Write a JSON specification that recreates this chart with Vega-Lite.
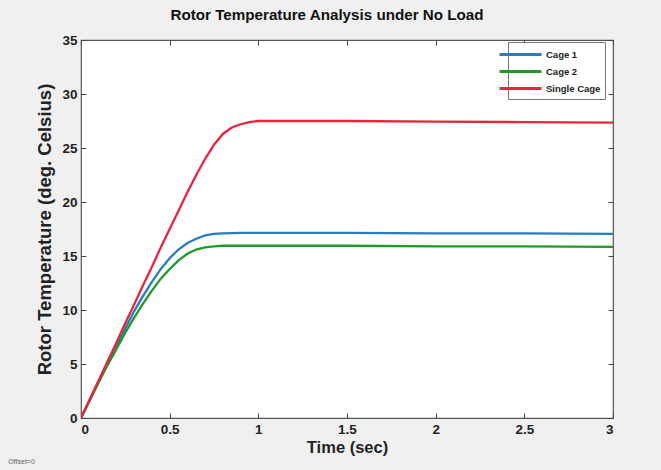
{
  "$schema": "https://vega.github.io/schema/vega-lite/v6.json",
  "width": 532,
  "height": 378,
  "autosize": "none",
  "padding": {"left": 81, "top": 40, "right": 48, "bottom": 52},
  "background": "#f0f0f0",
  "config": {
    "view": {"fill": "white", "stroke": "#555", "strokeWidth": 1.2},
    "font": "Liberation Sans",
    "axis": {"grid": false, "domain": false, "tickColor": "#444", "tickSize": -5, "labelFont": "Liberation Sans", "labelFontWeight": "bold", "labelFontSize": 13.5, "labelColor": "#222", "titleFont": "Liberation Sans", "titleFontWeight": "bold", "titleFontSize": 16.5, "titleColor": "#222"}
  },
  "title": {"text": "Rotor Temperature Analysis under No Load", "fontSize": 15.2, "fontWeight": "bold", "font": "Liberation Sans", "color": "#111", "offset": 10, "dx": -20},
  "datasets": {
    "temps": [
      {"t": 0, "v": 0, "s": "Cage 1"}, {"t": 0.05, "v": 1.7, "s": "Cage 1"}, {"t": 0.1, "v": 3.4, "s": "Cage 1"}, {"t": 0.15, "v": 5.1, "s": "Cage 1"}, {"t": 0.2, "v": 6.7, "s": "Cage 1"}, {"t": 0.25, "v": 8.3, "s": "Cage 1"}, {"t": 0.3, "v": 9.9, "s": "Cage 1"}, {"t": 0.35, "v": 11.3, "s": "Cage 1"}, {"t": 0.4, "v": 12.6, "s": "Cage 1"}, {"t": 0.45, "v": 13.8, "s": "Cage 1"}, {"t": 0.5, "v": 14.8, "s": "Cage 1"}, {"t": 0.55, "v": 15.6, "s": "Cage 1"}, {"t": 0.6, "v": 16.2, "s": "Cage 1"}, {"t": 0.65, "v": 16.6, "s": "Cage 1"}, {"t": 0.7, "v": 16.9, "s": "Cage 1"}, {"t": 0.75, "v": 17.05, "s": "Cage 1"}, {"t": 0.8, "v": 17.1, "s": "Cage 1"}, {"t": 0.9, "v": 17.15, "s": "Cage 1"}, {"t": 1.0, "v": 17.15, "s": "Cage 1"}, {"t": 1.5, "v": 17.15, "s": "Cage 1"}, {"t": 2.0, "v": 17.1, "s": "Cage 1"}, {"t": 2.5, "v": 17.1, "s": "Cage 1"}, {"t": 3.0, "v": 17.05, "s": "Cage 1"},
      {"t": 0, "v": 0, "s": "Cage 2"}, {"t": 0.05, "v": 1.65, "s": "Cage 2"}, {"t": 0.1, "v": 3.3, "s": "Cage 2"}, {"t": 0.15, "v": 4.9, "s": "Cage 2"}, {"t": 0.2, "v": 6.4, "s": "Cage 2"}, {"t": 0.25, "v": 7.9, "s": "Cage 2"}, {"t": 0.3, "v": 9.3, "s": "Cage 2"}, {"t": 0.35, "v": 10.6, "s": "Cage 2"}, {"t": 0.4, "v": 11.8, "s": "Cage 2"}, {"t": 0.45, "v": 12.9, "s": "Cage 2"}, {"t": 0.5, "v": 13.8, "s": "Cage 2"}, {"t": 0.55, "v": 14.6, "s": "Cage 2"}, {"t": 0.6, "v": 15.2, "s": "Cage 2"}, {"t": 0.65, "v": 15.6, "s": "Cage 2"}, {"t": 0.7, "v": 15.8, "s": "Cage 2"}, {"t": 0.75, "v": 15.9, "s": "Cage 2"}, {"t": 0.8, "v": 15.95, "s": "Cage 2"}, {"t": 1.0, "v": 15.95, "s": "Cage 2"}, {"t": 1.5, "v": 15.95, "s": "Cage 2"}, {"t": 2.0, "v": 15.9, "s": "Cage 2"}, {"t": 2.5, "v": 15.9, "s": "Cage 2"}, {"t": 3.0, "v": 15.85, "s": "Cage 2"},
      {"t": 0, "v": 0, "s": "Single Cage"}, {"t": 0.05, "v": 1.75, "s": "Single Cage"}, {"t": 0.1, "v": 3.5, "s": "Single Cage"}, {"t": 0.15, "v": 5.25, "s": "Single Cage"}, {"t": 0.2, "v": 7.0, "s": "Single Cage"}, {"t": 0.25, "v": 8.8, "s": "Single Cage"}, {"t": 0.3, "v": 10.5, "s": "Single Cage"}, {"t": 0.35, "v": 12.3, "s": "Single Cage"}, {"t": 0.4, "v": 14.0, "s": "Single Cage"}, {"t": 0.45, "v": 15.8, "s": "Single Cage"}, {"t": 0.5, "v": 17.5, "s": "Single Cage"}, {"t": 0.55, "v": 19.2, "s": "Single Cage"}, {"t": 0.6, "v": 20.9, "s": "Single Cage"}, {"t": 0.65, "v": 22.5, "s": "Single Cage"}, {"t": 0.7, "v": 24.0, "s": "Single Cage"}, {"t": 0.75, "v": 25.3, "s": "Single Cage"}, {"t": 0.8, "v": 26.3, "s": "Single Cage"}, {"t": 0.85, "v": 26.9, "s": "Single Cage"}, {"t": 0.9, "v": 27.2, "s": "Single Cage"}, {"t": 0.95, "v": 27.4, "s": "Single Cage"}, {"t": 1.0, "v": 27.5, "s": "Single Cage"}, {"t": 1.5, "v": 27.5, "s": "Single Cage"}, {"t": 2.0, "v": 27.45, "s": "Single Cage"}, {"t": 2.5, "v": 27.4, "s": "Single Cage"}, {"t": 3.0, "v": 27.35, "s": "Single Cage"}
    ],
    "note": [{"t": -0.41, "v": -4.1, "label": "Offset=0"}]
  },
  "layer": [
    {
      "data": {"name": "temps"},
      "mark": {"type": "line", "strokeWidth": 2.3, "clip": true},
      "encoding": {
        "x": {"field": "t", "type": "quantitative", "scale": {"domain": [0, 3], "nice": false, "zero": false}, "axis": {"title": "Time (sec)", "values": [0, 0.5, 1, 1.5, 2, 2.5, 3], "format": "~g", "labelPadding": 9, "titlePadding": 4}},
        "y": {"field": "v", "type": "quantitative", "scale": {"domain": [0, 35], "nice": false}, "axis": {"title": "Rotor Temperature (deg. Celsius)", "titleFontSize": 18.5, "values": [0, 5, 10, 15, 20, 25, 30, 35], "format": "~g", "labelPadding": 9, "titlePadding": 7}},
        "color": {"field": "s", "type": "nominal", "scale": {"domain": ["Cage 1", "Cage 2", "Single Cage"], "range": ["#2b7bbf", "#1e9a28", "#e8253f"]},
          "legend": {"title": null, "orient": "none", "legendX": 427, "legendY": 2, "symbolType": "M-3,0H3", "symbolSize": 196, "symbolStrokeWidth": 3, "symbolFillColor": "transparent", "labelFont": "Liberation Sans", "labelFontSize": 9.5, "labelFontWeight": "bold", "labelColor": "#222", "fillColor": "white", "strokeColor": "#777", "padding": 4, "rowPadding": 2, "labelOffset": 17}},
        "detail": {"field": "s"}
      }
    },
    {
      "data": {"name": "temps"},
      "mark": {"type": "line", "strokeOpacity": 0},
      "encoding": {
        "x": {"field": "t", "type": "quantitative", "axis": {"orient": "top", "title": null, "labels": false, "values": [0, 0.5, 1, 1.5, 2, 2.5, 3]}},
        "y": {"field": "v", "type": "quantitative", "axis": {"orient": "right", "title": null, "labels": false, "values": [0, 5, 10, 15, 20, 25, 30, 35]}}
      }
    },
    {
      "data": {"name": "note"},
      "mark": {"type": "text", "clip": false, "fontSize": 7, "font": "Liberation Sans", "color": "#666", "align": "left"},
      "encoding": {
        "x": {"field": "t", "type": "quantitative", "axis": null},
        "y": {"field": "v", "type": "quantitative", "axis": null},
        "text": {"field": "label"}
      }
    }
  ],
  "resolve": {"axis": {"x": "independent", "y": "independent"}}
}
